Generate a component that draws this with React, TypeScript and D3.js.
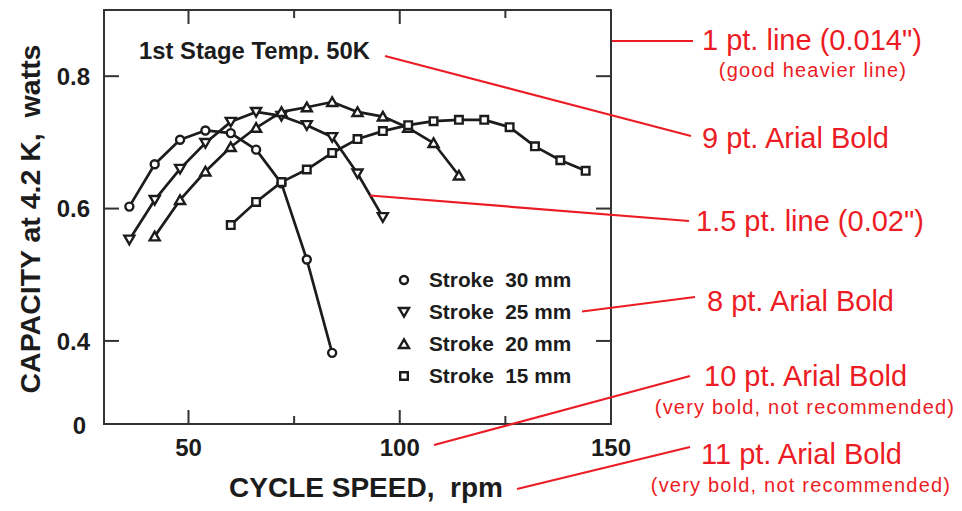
import React from 'react';
import * as d3 from 'd3';

// Capacity at 4.2 K (watts) vs cycle speed (rpm), one series per stroke
const rpm30 = [36, 42, 48, 54, 60, 66, 72, 78, 84];
const cap30 = [0.603, 0.667, 0.704, 0.718, 0.714, 0.689, 0.638, 0.523, 0.382];

const rpm25 = [36, 42, 48, 54, 60, 66, 72, 78, 84, 90, 96];
const cap25 = [0.553, 0.613, 0.66, 0.699, 0.731, 0.746, 0.74, 0.726, 0.708, 0.653, 0.587];

const rpm20 = [42, 48, 54, 60, 66, 72, 78, 84, 90, 96, 102, 108, 114];
const cap20 = [0.558, 0.613, 0.656, 0.693, 0.722, 0.746, 0.753, 0.761, 0.746, 0.739, 0.722, 0.699, 0.65];

const rpm15 = [60, 66, 72, 78, 84, 90, 96, 102, 108, 114, 120, 126, 132, 138, 144];
const cap15 = [0.575, 0.61, 0.64, 0.659, 0.684, 0.705, 0.717, 0.726, 0.732, 0.734, 0.734, 0.723, 0.694, 0.673, 0.657];

const legendLabels = ['Stroke  30 mm', 'Stroke  25 mm', 'Stroke  20 mm', 'Stroke  15 mm'];
const xMajorTicks = [50, 100, 150];
const xMinorTicks = [75, 125];
const yTicks = [0.4, 0.6, 0.8];

type Shape = 'circle' | 'triDown' | 'triUp' | 'square';

const series: { shape: Shape; x: number[]; y: number[] }[] = [
  { shape: 'circle', x: rpm30, y: cap30 },
  { shape: 'triDown', x: rpm25, y: cap25 },
  { shape: 'triUp', x: rpm20, y: cap20 },
  { shape: 'square', x: rpm15, y: cap15 },
];

const W = 962;
const H = 511;
const frame = { left: 104, right: 611, top: 10, bottom: 424 };
const INK = '#1c1c1c';
const RED = '#ec1c24';
const FONT = '"Liberation Sans", Arial, Helvetica, sans-serif';

const x = d3.scaleLinear().domain([30, 150]).range([frame.left, frame.right]);
const y = d3.scaleLinear().domain([0.2745, 0.9]).range([frame.bottom, frame.top]);

function markerPath(shape: Shape): string {
  switch (shape) {
    case 'circle':
      return 'M4,0A4,4 0 1,1 -4,0A4,4 0 1,1 4,0Z';
    case 'square':
      return 'M-3.8,-3.8H3.8V3.8H-3.8Z';
    case 'triUp':
      return 'M0,-4.6L5,4L-5,4Z';
    case 'triDown':
      return 'M0,4.6L5,-4L-5,-4Z';
  }
}

// red callouts: leader line + label
const callouts = [
  { line: [612, 41, 693, 41], text: '1 pt. line (0.014")', tx: 702, ty: 49.5, sub: '(good heavier line)', sx: 813, sy: 77 },
  { line: [385, 56, 691, 136], text: '9 pt. Arial Bold', tx: 702, ty: 147.5 },
  { line: [370, 195.5, 689, 221], text: '1.5 pt. line (0.02")', tx: 696, ty: 231 },
  { line: [582, 311.5, 695, 297], text: '8 pt. Arial Bold', tx: 707, ty: 311 },
  { line: [434, 445, 690, 376], text: '10 pt. Arial Bold', tx: 704, ty: 386, sub: '(very bold, not recommended)', sx: 805, sy: 414 },
  { line: [517, 489, 690, 447], text: '11 pt. Arial Bold', tx: 701, ty: 464, sub: '(very bold, not recommended)', sx: 801, sy: 492 },
];

const App: React.FC = () => {
  const line = d3
    .line<[number, number]>()
    .x((d) => x(d[0]))
    .y((d) => y(d[1]));

  return (
    <svg
      width={W}
      height={H}
      style={{ position: 'absolute', left: 0, top: 0, background: '#fff' }}
      fontFamily={FONT}
    >
      {/* frame */}
      <rect
        x={frame.left}
        y={frame.top}
        width={frame.right - frame.left}
        height={frame.bottom - frame.top}
        fill="none"
        stroke="#333"
        strokeWidth={2}
      />

      {/* x ticks, bottom and top, pointing inward */}
      {xMajorTicks.concat(xMinorTicks).map((t) => {
        const len = xMajorTicks.includes(t) ? 14 : 8;
        return (
          <g key={'xt' + t} stroke="#333" strokeWidth={2}>
            <line x1={x(t)} x2={x(t)} y1={frame.bottom} y2={frame.bottom - len} />
            <line x1={x(t)} x2={x(t)} y1={frame.top} y2={frame.top + len} />
          </g>
        );
      })}
      {xMajorTicks.map((t) => (
        <text key={'xl' + t} x={x(t)} y={456} textAnchor="middle" fontSize={24} fontWeight="bold" fill={INK}>
          {t}
        </text>
      ))}

      {/* y ticks */}
      {yTicks.map((t) => (
        <g key={'yt' + t} stroke="#333" strokeWidth={2}>
          <line x1={frame.left} x2={frame.left + 15} y1={y(t)} y2={y(t)} />
          <line x1={frame.right} x2={frame.right - 15} y1={y(t)} y2={y(t)} />
        </g>
      ))}
      {yTicks.map((t) => (
        <text key={'yl' + t} x={90} y={y(t) + 8.6} textAnchor="end" fontSize={24} fontWeight="bold" fill={INK}>
          {t.toFixed(1)}
        </text>
      ))}
      <text x={86} y={frame.bottom + 9.5} textAnchor="end" fontSize={24} fontWeight="bold" fill={INK}>
        0
      </text>

      {/* axis titles */}
      <text
        x={366}
        y={497}
        textAnchor="middle"
        fontSize={28}
        fontWeight="bold"
        fill={INK}
        style={{ whiteSpace: 'pre' }}
      >
        {'CYCLE SPEED,  rpm'}
      </text>
      <text
        transform={`translate(40,219) rotate(-90)`}
        textAnchor="middle"
        fontSize={28.5}
        fontWeight="bold"
        fill={INK}
        style={{ whiteSpace: 'pre' }}
      >
        {'CAPACITY at 4.2 K,  watts'}
      </text>

      <text x={139} y={59} fontSize={23.8} fontWeight="bold" fill={INK}>
        1st Stage Temp. 50K
      </text>

      {/* series lines */}
      {series.map((s) => (
        <path
          key={'l' + s.shape}
          d={line(s.x.map((v, i) => [v, s.y[i]] as [number, number])) || ''}
          fill="none"
          stroke={INK}
          strokeWidth={2.7}
          strokeLinejoin="round"
        />
      ))}
      {/* markers */}
      {series.map((s) =>
        s.x.map((v, i) => (
          <path
            key={'m' + s.shape + i}
            d={markerPath(s.shape)}
            transform={`translate(${x(v)},${y(s.y[i])})`}
            fill="#fff"
            stroke={INK}
            strokeWidth={2.4}
            strokeLinejoin="miter"
          />
        ))
      )}

      {/* legend */}
      {series.map((s, i) => {
        const cy = 280 + i * 32;
        return (
          <g key={'lg' + i}>
            <path
              d={markerPath(s.shape)}
              transform={`translate(404,${cy})`}
              fill="#fff"
              stroke={INK}
              strokeWidth={2.4}
            />
            <text
              x={429}
              y={cy + 7}
              fontSize={20.8}
              fontWeight="bold"
              fill={INK}
              style={{ whiteSpace: 'pre' }}
            >
              {legendLabels[i]}
            </text>
          </g>
        );
      })}

      {/* red callouts */}
      {callouts.map((c, i) => (
        <g key={'c' + i} fill={RED}>
          <line x1={c.line[0]} y1={c.line[1]} x2={c.line[2]} y2={c.line[3]} stroke={RED} strokeWidth={2.2} />
          <text x={c.tx} y={c.ty} fontSize={29}>
            {c.text}
          </text>
          {c.sub && (
            <text x={c.sx} y={c.sy} fontSize={20} letterSpacing={1.2} textAnchor="middle">
              {c.sub}
            </text>
          )}
        </g>
      ))}
    </svg>
  );
};

export default App;
